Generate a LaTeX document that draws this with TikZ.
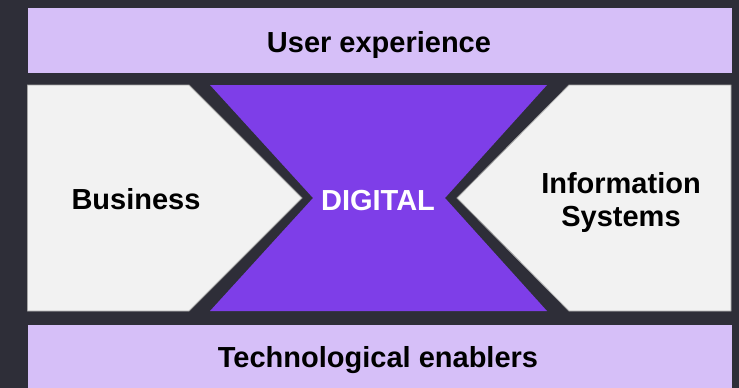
\documentclass[tikz,border=0pt]{standalone}
\usepackage{fontspec}
\setmainfont{Liberation Sans}
\begin{document}
\definecolor{bgdark}{HTML}{2E2E38}
\definecolor{lavender}{HTML}{D6BFF8}
\definecolor{violet}{HTML}{7E3EE8}
\definecolor{panel}{HTML}{F2F2F2}
\definecolor{panelline}{HTML}{A6A6A6}
\begin{tikzpicture}[x=1pt,y=-1pt,
  bar/.style={fill=lavender},
  side/.style={fill=panel,draw=panelline,line width=0.8pt},
  core/.style={fill=violet},
  label/.style={font=\fontsize{29}{33}\selectfont\bfseries,inner sep=0pt,anchor=base},
]
% background
\fill[bgdark] (0,0) rectangle (739,388);
\useasboundingbox (0,0) rectangle (739,388);

% horizontal bars
\fill[bar] (28,8) rectangle (732,73);
\fill[bar] (28,325) rectangle (732,388);

% side panels with arrow-shaped inner edges
\path[side] (27.5,85) -- (189,85) -- (302,198) -- (189,311) -- (27.5,311) -- cycle;
\path[side] (731,85) -- (569,85) -- (457,198) -- (569,311) -- (731,311) -- cycle;

% central hourglass
\fill[core] (210,85) -- (547,85) -- (445,198) -- (547,311) -- (210,311) -- (313,198) -- cycle;

% labels (a two-line node sits on the baseline of its last line)
\node[label] (ux) at (379,52) {User experience};
\node[label] (biz) at (136,209) {Business};
\node[label,align=center] (is) at (621,226) {Information\\Systems};
\node[label,text=white] (dig) at (378,210) {DIGITAL};
\node[label] (tech) at (378,367) {Technological enablers};
\end{tikzpicture}
\end{document}
